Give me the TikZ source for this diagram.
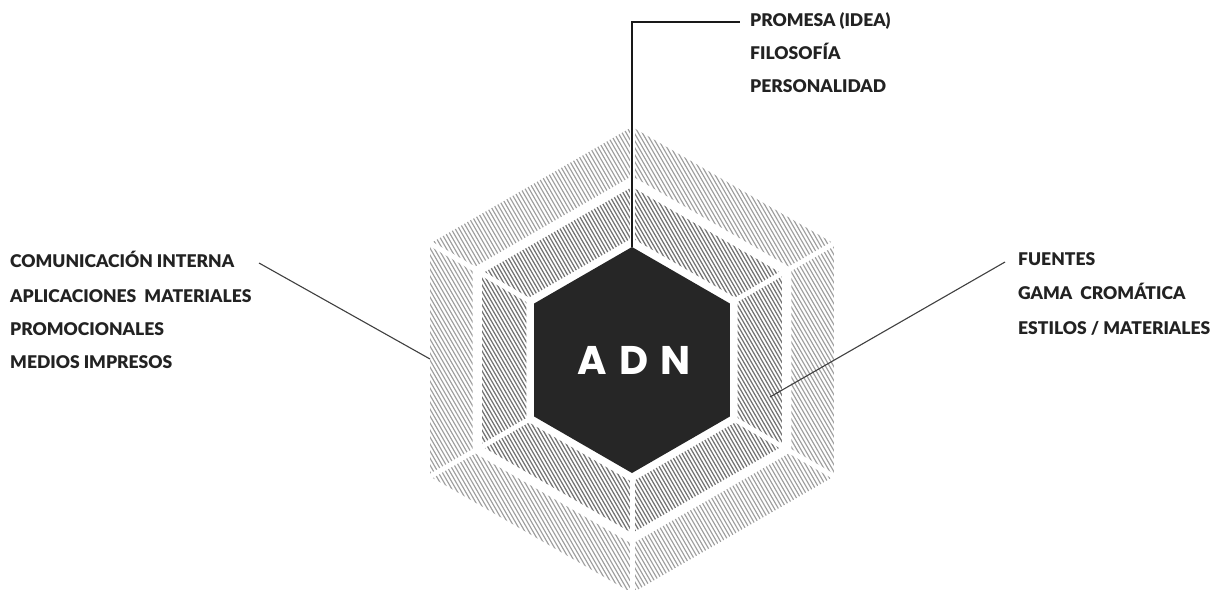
\documentclass[tikz,border=0pt]{standalone}
\usepackage{fontspec}
\setmainfont{Lato}[BoldFont={Lato Black}]
\newfontfamily\adnfont{Poppins}
\definecolor{hexdark}{HTML}{262626}
\definecolor{txt}{HTML}{222222}
\begin{document}
\begin{tikzpicture}[x=1pt,y=1pt,
  lbl/.style={anchor=base west, inner sep=0pt, font=\bfseries\fontsize{17.5}{17.5}\selectfont, text=txt},
  conn/.style={draw=black!75, line width=1.1pt},
  topconn/.style={draw=black!90, line width=1.6pt},
  hatchmid/.style={draw=black!55, line width=1.25pt},
  hatchout/.style={draw=black!38, line width=1.15pt},
  gap/.style={draw=white, line width=5pt}]
\useasboundingbox (0,0) rectangle (1223,-589);
\fill[white] (0,0) rectangle (1223,-589);
\coordinate (C) at (632,-360);
\begin{scope}[shift={(C)}]
  % middle ring
  \begin{scope}[even odd rule]
    \clip (90:173)--(30:173)--(-30:173)--(-90:173)--(-150:173)--(150:173)--cycle
          (90:122)--(30:122)--(-30:122)--(-90:122)--(-150:122)--(150:122)--cycle;
    \begin{scope}[rotate=-60]
      \foreach \k in {-55,...,55} \draw[hatchmid] (-200,\k*3.3) -- (200,\k*3.3);
    \end{scope}
  \end{scope}
  % outer ring
  \begin{scope}[even odd rule]
    \clip (90:233)--(30:233)--(-30:233)--(-90:233)--(-150:233)--(150:233)--cycle
          (90:184)--(30:184)--(-30:184)--(-90:184)--(-150:184)--(150:184)--cycle;
    \begin{scope}[rotate=-60]
      \foreach \k in {-72,...,72} \draw[hatchout] (-260,\k*3.5) -- (260,\k*3.5);
    \end{scope}
  \end{scope}
  % radial gaps
  \foreach \a in {90,30,-30,-90,-150,150} \draw[gap] (\a:115) -- (\a:245);
  % dark core
  \fill[hexdark] (90:113)--(30:113)--(-30:113)--(-90:113)--(-150:113)--(150:113)--cycle;
  \coordinate (htop) at (90:113);
\end{scope}
\node (adn) at (634,-360) [inner sep=0pt, text=white, font=\adnfont\bfseries\fontsize{40}{40}\selectfont] {A\hspace{12pt}D\hspace{12pt}N};

% top labels
\node[lbl] (promesa) at (750,-27) {PROMESA (IDEA)};
\node[lbl] (filosofia) at (750,-59.5) {FILOSOFÍA};
\node[lbl] (personalidad) at (750,-92) {PERSONALIDAD};
% left labels
\node[lbl] (comunicacion) at (10,-267) {COMUNICACIÓN INTERNA};
\node[lbl] (aplicaciones) at (10,-302) {APLICACIONES\ \ MATERIALES};
\node[lbl] (promocionales) at (10,-335) {PROMOCIONALES};
\node[lbl] (medios) at (10,-368) {MEDIOS IMPRESOS};
% right labels
\node[lbl] (fuentes) at (1018,-265) {FUENTES};
\node[lbl] (gama) at (1018,-299) {GAMA\ \ CROMÁTICA};
\node[lbl] (estilos) at (1018,-334) {ESTILOS / MATERIALES};

% connectors
\coordinate (tend) at (740,-22);
\draw[topconn] (htop) |- (tend);
\coordinate (lstart) at (259,-263);
\coordinate (lend) at (430,-359);
\draw[conn] (lstart) -- (lend);
\coordinate (rstart) at (770,-397);
\coordinate (rend) at (1005,-262);
\draw[conn] (rstart) -- (rend);
\end{tikzpicture}
\end{document}
